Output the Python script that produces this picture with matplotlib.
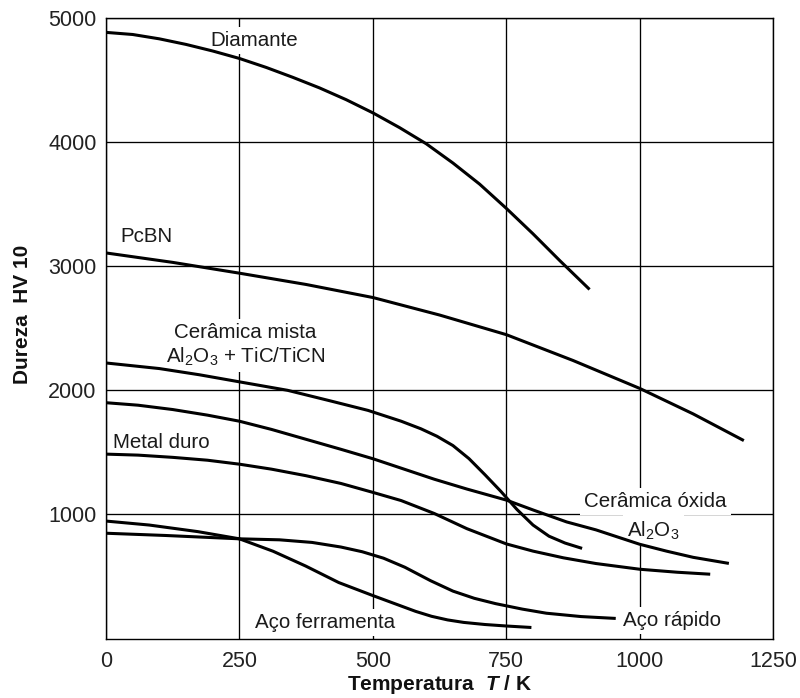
import numpy as np
import matplotlib
matplotlib.use("Agg")
import matplotlib.pyplot as plt

# fonts: Arial-like everywhere, mathtext only for subscripts and the italic T
plt.rcParams['font.family'] = ['Liberation Sans', 'DejaVu Sans']
plt.rcParams['mathtext.fontset'] = 'custom'
plt.rcParams['mathtext.rm'] = 'Liberation Sans'
plt.rcParams['mathtext.it'] = 'Liberation Sans:italic:bold'
plt.rcParams['mathtext.bf'] = 'Liberation Sans:bold'

# hardness HV 10 vs temperature T / K, read per material
T_diamante = [0, 50, 100, 150, 200, 250, 300, 350, 400, 450, 500, 550, 600, 650, 700, 750, 800, 850, 906]
HV_diamante = [4882, 4865, 4830, 4785, 4732, 4672, 4600, 4520, 4435, 4340, 4234, 4115, 3985, 3830, 3660, 3465, 3260, 3045, 2812]

T_pcbn = [0, 125, 250, 375, 500, 625, 750, 875, 1000, 1100, 1195]
HV_pcbn = [3106, 3030, 2943, 2852, 2747, 2606, 2448, 2240, 2015, 1810, 1595]

T_mista = [0, 100, 175, 250, 340, 420, 491, 553, 590, 620, 650, 680, 710, 740, 770, 800, 830, 860, 892]
HV_mista = [2220, 2175, 2125, 2068, 2000, 1915, 1838, 1751, 1690, 1630, 1555, 1450, 1320, 1185, 1040, 915, 825, 770, 727]

T_oxida = [0, 60, 125, 190, 250, 310, 375, 440, 500, 553, 615, 676, 750, 801, 863, 918, 1000, 1050, 1100, 1167]
HV_oxida = [1900, 1880, 1845, 1800, 1751, 1685, 1605, 1525, 1449, 1373, 1284, 1205, 1116, 1035, 940, 876, 760, 705, 655, 606]

T_metal = [0, 60, 125, 190, 250, 310, 375, 440, 500, 553, 615, 676, 750, 800, 857, 918, 1000, 1070, 1132]
HV_metal = [1486, 1478, 1460, 1437, 1405, 1365, 1312, 1250, 1178, 1112, 1008, 886, 763, 705, 651, 605, 559, 535, 519]

T_rapido = [0, 111, 250, 325, 386, 440, 480, 520, 560, 608, 650, 690, 730, 780, 825, 890, 955]
HV_rapido = [849, 831, 804, 796, 775, 738, 700, 648, 575, 467, 383, 325, 282, 238, 205, 178, 163]

T_ferr = [0, 81, 172, 250, 313, 374, 436, 500, 546, 580, 610, 640, 670, 710, 750, 797]
HV_ferr = [947, 915, 862, 804, 704, 585, 452, 347, 274, 220, 180, 151, 131, 114, 102, 90]

curves = [(T_diamante, HV_diamante), (T_pcbn, HV_pcbn), (T_mista, HV_mista),
          (T_oxida, HV_oxida), (T_metal, HV_metal), (T_rapido, HV_rapido),
          (T_ferr, HV_ferr)]

x_ticks = [0, 250, 500, 750, 1000, 1250]
y_ticks = [1000, 2000, 3000, 4000, 5000]

fig = plt.figure(figsize=(8, 6.98), dpi=100)
ax = fig.add_axes([0.1325, 0.085, 0.834, 0.8896])

for t, hv in curves:
    ax.plot(t, hv, color='black', lw=2.2, solid_capstyle='butt',
            solid_joinstyle='round', zorder=4)

ax.set_xlim(0, 1250)
ax.set_ylim(0, 5000)
ax.set_xticks(x_ticks)
ax.set_yticks(y_ticks)
ax.tick_params(axis='both', length=0, labelsize=15.5, colors='#222222')
ax.tick_params(axis='x', pad=9)
ax.tick_params(axis='y', pad=6.7)
ax.grid(True, color='black', lw=0.95, zorder=1)
ax.set_axisbelow(True)
for s in ax.spines.values():
    s.set_linewidth(1.0)

# curve labels, white boxes cut the grid lines behind them
box = dict(facecolor='white', edgecolor='none', boxstyle='square,pad=0.2')
lab = dict(fontsize=14.8, color='#1a1a1a', zorder=3, bbox=box)
ax.text(278, 4774, 'Diamante', ha='center', va='baseline', **lab)
ax.text(26, 3195, 'PcBN', ha='left', va='baseline', **lab)
ax.text(260, 2422, 'Cerâmica mista', ha='center', va='baseline', **lab)
ax.text(262, 2223, r'Al$_2$O$_3$ + TiC/TiCN', ha='center', va='baseline', **lab)
ax.text(13, 1539, 'Metal duro', ha='left', va='baseline', **lab)
ax.text(1029, 1060, 'Cerâmica óxida', ha='center', va='baseline', **lab)
ax.text(1026, 823, r'Al$_2$O$_3$', ha='center', va='baseline', **lab)
ax.text(410, 87, 'Aço ferramenta', ha='center', va='baseline', **lab)
ax.text(1061, 101, 'Aço rápido', ha='center', va='baseline', **lab)

# axis titles
fig.text(0.028, 0.549, 'Dureza  HV 10', rotation=90, ha='center', va='center',
         fontsize=15, fontweight='bold', color='#111111')
fig.text(0.549, 0.0115, r'Temperatura  $T$ / K', ha='center', va='baseline',
         fontsize=15, fontweight='bold', color='#111111')

fig.savefig('out.png', dpi=100)
